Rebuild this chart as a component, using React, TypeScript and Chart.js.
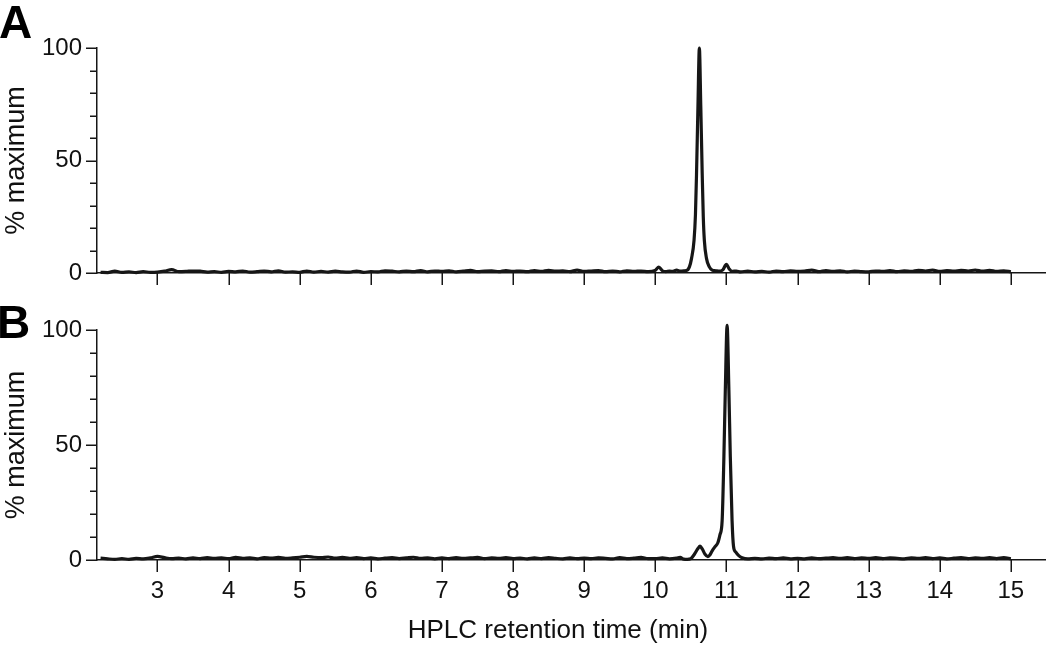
import React, { useEffect, useRef } from "react";
import { Chart, registerables } from "chart.js";

Chart.register(...registerables);

const FONT = "'Liberation Sans', Arial, Helvetica, sans-serif";
const INK = "#161616";
const TEXT = "#111111";

// ---------- Panel A (retention time in min, % of maximum) ----------
const timesA = [
  2.2, 2.3, 2.4, 2.5, 2.6, 2.7, 2.8, 2.9, 3.0, 3.1, 3.2, 3.3, 3.4, 3.5, 3.6, 3.7, 3.8, 3.9,
  4.0, 4.1, 4.2, 4.3, 4.4, 4.5, 4.6, 4.7, 4.8, 4.9, 5.0, 5.1, 5.2, 5.3, 5.4, 5.5, 5.6, 5.7, 5.8, 5.9,
  6.0, 6.1, 6.2, 6.3, 6.4, 6.5, 6.6, 6.7, 6.8, 6.9, 7.0, 7.1, 7.2, 7.3, 7.4, 7.5, 7.6, 7.7, 7.8, 7.9,
  8.0, 8.1, 8.2, 8.3, 8.4, 8.5, 8.6, 8.7, 8.8, 8.9, 9.0, 9.1, 9.2, 9.3, 9.4, 9.5, 9.6, 9.7, 9.8, 9.9,
  10.0, 10.05, 10.1, 10.15, 10.2, 10.25, 10.3, 10.35, 10.4, 10.44, 10.48, 10.51, 10.545, 10.565,
  10.58, 10.60, 10.62, 10.64, 10.66, 10.675, 10.69, 10.72, 10.76, 10.8, 10.85, 10.9, 10.95, 11.0,
  11.04, 11.08, 11.14, 11.2,
  11.3, 11.4, 11.5, 11.6, 11.7, 11.8, 11.9, 12.0, 12.1, 12.2, 12.3, 12.4, 12.5, 12.6, 12.7, 12.8, 12.9,
  13.0, 13.1, 13.2, 13.3, 13.4, 13.5, 13.6, 13.7, 13.8, 13.9, 14.0, 14.1, 14.2, 14.3, 14.4, 14.5, 14.6,
  14.7, 14.8, 14.9, 15.0,
];
const valuesA = [
  0.3, 0.2, 0.8, 0.3, 0.5, 0.2, 0.6, 0.3, 0.4, 0.8, 1.5, 0.6, 0.7, 0.9, 0.8, 0.4, 0.6, 0.3,
  0.7, 0.5, 0.9, 0.4, 0.6, 0.9, 0.5, 1.0, 0.4, 0.5, 0.3, 0.9, 0.4, 0.7, 0.4, 0.8, 0.5, 0.4, 0.9, 0.3,
  0.6, 0.5, 1.0, 0.8, 0.5, 0.9, 0.6, 1.1, 0.5, 0.9, 0.7, 1.0, 0.5, 0.8, 1.2, 0.6, 0.9, 1.0, 0.6, 1.1,
  0.7, 0.9, 0.6, 1.1, 0.7, 1.2, 0.8, 1.0, 0.6, 1.3, 0.7, 0.9, 1.1, 0.6, 0.9, 0.5, 1.0, 0.7, 0.9, 0.6,
  1.2, 2.6, 1.0, 0.6, 0.9, 0.7, 1.3, 0.8, 1.0, 1.1, 2.7, 6.5, 14.5, 26,
  44, 74, 100, 74, 44, 25, 14.5, 6.5, 2.7, 1.3, 1.0, 0.8, 1.4, 3.8,
  1.8, 0.7, 0.9, 0.5,
  0.8, 0.5, 0.7, 0.4, 0.9, 0.6, 1.0, 0.7, 0.9, 1.3, 0.6, 1.1, 0.7, 1.0, 0.5, 0.8, 0.6,
  0.5, 0.9, 0.7, 1.1, 0.6, 1.0, 0.7, 1.2, 0.9, 1.3, 0.7, 1.1, 0.8, 1.2, 0.9, 1.3, 0.8,
  1.2, 0.7, 1.0, 0.5,
];

// ---------- Panel B ----------
const timesB = [
  2.2, 2.3, 2.4, 2.5, 2.6, 2.7, 2.8, 2.9, 3.0, 3.1, 3.2, 3.3, 3.4, 3.5, 3.6, 3.7, 3.8, 3.9,
  4.0, 4.1, 4.2, 4.3, 4.4, 4.5, 4.6, 4.7, 4.8, 4.9, 5.0, 5.1, 5.2, 5.3, 5.4, 5.5, 5.6, 5.7, 5.8, 5.9,
  6.0, 6.1, 6.2, 6.3, 6.4, 6.5, 6.6, 6.7, 6.8, 6.9, 7.0, 7.1, 7.2, 7.3, 7.4, 7.5, 7.6, 7.7, 7.8, 7.9,
  8.0, 8.1, 8.2, 8.3, 8.4, 8.5, 8.6, 8.7, 8.8, 8.9, 9.0, 9.1, 9.2, 9.3, 9.4, 9.5, 9.6, 9.7, 9.8, 9.9,
  10.0, 10.1, 10.2, 10.3, 10.35, 10.4, 10.45, 10.5, 10.55, 10.6, 10.63, 10.66, 10.7, 10.74, 10.77,
  10.8, 10.84, 10.88, 10.91, 10.94, 10.965, 10.985, 11.01, 11.035, 11.055, 11.08, 11.1, 11.13,
  11.17, 11.22, 11.3,
  11.4, 11.5, 11.6, 11.7, 11.8, 11.9, 12.0, 12.1, 12.2, 12.3, 12.4, 12.5, 12.6, 12.7, 12.8, 12.9,
  13.0, 13.1, 13.2, 13.3, 13.4, 13.5, 13.6, 13.7, 13.8, 13.9, 14.0, 14.1, 14.2, 14.3, 14.4, 14.5, 14.6,
  14.7, 14.8, 14.9, 15.0,
];
const valuesB = [
  0.8, 0.5, 0.3, 0.6, 0.3, 0.7, 0.5, 0.9, 1.6, 1.0, 0.6, 0.8, 0.5, 0.9, 0.6, 1.0, 0.7, 0.9,
  0.6, 1.1, 0.7, 0.9, 0.5, 1.0, 0.8, 1.1, 0.7, 0.9, 1.2, 1.6, 1.2, 1.0, 1.3, 0.8, 1.1, 0.7, 1.0, 0.6,
  0.9, 0.5, 0.8, 1.0, 0.6, 0.9, 1.2, 0.7, 0.9, 0.5, 0.9, 0.6, 1.0, 0.7, 0.9, 1.1, 0.6, 0.9, 0.7, 1.0,
  0.6, 0.8, 0.5, 0.9, 0.6, 1.0, 0.7, 0.5, 0.9, 0.6, 0.8, 0.6, 0.9, 0.7, 0.5, 1.0, 0.6, 0.8, 1.1, 0.6,
  0.6, 0.9, 0.5, 0.8, 1.1, 0.4, 0.3, 0.6, 2.5, 5.0, 6.0, 4.8, 2.5, 1.5, 2.3,
  4.0, 5.8, 7.5, 11, 17, 45, 74, 102, 74, 45, 17, 6, 3.5,
  2.0, 1.0, 0.5,
  0.7, 0.5, 0.8, 0.6, 0.9, 0.5, 0.7, 0.5, 0.9, 0.6, 0.8, 1.0, 0.7, 1.0, 0.6, 0.9,
  0.7, 1.0, 0.6, 0.9, 0.7, 0.5, 0.9, 0.7, 1.0, 0.6, 0.9, 0.5, 0.8, 1.0, 0.6, 0.9, 0.7,
  1.0, 0.6, 1.0, 0.5,
];

// ---------- Axes ----------
const xTickValues = [3, 4, 5, 6, 7, 8, 9, 10, 11, 12, 13, 14, 15];
const yTickValues = [0, 10, 20, 30, 40, 50, 60, 70, 80, 90, 100];
const yLabelValues = [0, 50, 100];
const X_MIN = 2.15;
const X_MAX = 15.48;
const Y_TITLE = "% maximum";
const X_TITLE = "HPLC retention time (min)";

type PanelOpts = {
  letter: string;
  letterX: number;
  letterY: number;
  showXLabels: boolean;
  padTop: number;
  xHeight: number;
};

function buildChart(canvas: HTMLCanvasElement, times: number[], values: number[], o: PanelOpts) {
  const data = times.map((t, i) => ({ x: t, y: values[i] }));
  const decor = {
    id: "decor",
    afterDraw(chart: any) {
      const ctx = chart.ctx;
      const xs = chart.scales.x;
      const ys = chart.scales.y;
      ctx.save();
      ctx.strokeStyle = INK;
      ctx.lineWidth = 1.5;
      ctx.beginPath();
      for (const v of yTickValues) {
        const py = Math.round(ys.getPixelForValue(v)) + 0.25;
        const len = yLabelValues.includes(v) ? 11 : 7;
        ctx.moveTo(ys.right - len, py);
        ctx.lineTo(ys.right, py);
      }
      for (const t of xTickValues) {
        const px = Math.round(xs.getPixelForValue(t)) + 0.25;
        ctx.moveTo(px, xs.top);
        ctx.lineTo(px, xs.top + 12);
      }
      ctx.stroke();
      ctx.fillStyle = "#000";
      ctx.textBaseline = "alphabetic";
      ctx.textAlign = "left";
      ctx.font = `bold 46px ${FONT}`;
      ctx.fillText(o.letter, o.letterX, o.letterY);
      if (o.showXLabels) {
        ctx.fillStyle = TEXT;
        ctx.font = `26px ${FONT}`;
        ctx.textAlign = "center";
        const cx = (chart.chartArea.left + chart.chartArea.right) / 2 - 13;
        ctx.fillText(X_TITLE, cx, xs.bottom - 10);
      }
      ctx.restore();
    },
  };

  return new Chart(canvas, {
    type: "line",
    data: {
      datasets: [
        {
          data,
          borderColor: INK,
          borderWidth: 3.2,
          pointRadius: 0,
          fill: false,
          cubicInterpolationMode: "monotone",
          clip: false as any,
        },
      ],
    },
    options: {
      animation: false,
      responsive: false,
      events: [],
      layout: { padding: { top: o.padTop, right: 5, bottom: 0, left: 0 } },
      plugins: { legend: { display: false }, tooltip: { enabled: false } },
      scales: {
        x: {
          type: "linear",
          min: X_MIN,
          max: X_MAX,
          afterFit: (s: any) => {
            s.height = o.xHeight;
          },
          border: { display: true, color: INK, width: 1.5 },
          grid: { display: true, drawOnChartArea: false, drawTicks: false },
          ticks: {
            display: o.showXLabels,
            stepSize: 1,
            includeBounds: false,
            padding: 17,
            color: TEXT,
            font: { family: FONT, size: 24 },
            maxRotation: 0,
            autoSkip: false,
            callback: (v: any) => (xTickValues.includes(Number(v)) ? String(v) : ""),
          },
        },
        y: {
          type: "linear",
          min: 0,
          max: 100,
          afterFit: (s: any) => {
            s.width = 97;
          },
          border: { display: true, color: INK, width: 1.5 },
          grid: { display: true, drawOnChartArea: false, drawTicks: false },
          ticks: {
            stepSize: 50,
            padding: 15,
            color: TEXT,
            font: { family: FONT, size: 24 },
            callback: (v: any) => (yLabelValues.includes(Number(v)) ? String(v) : ""),
          },
          title: {
            display: true,
            text: Y_TITLE,
            color: TEXT,
            font: { family: FONT, size: 27 },
            padding: 0,
          },
        },
      },
    },
    plugins: [decor],
  } as any);
}

function Panel(props: { times: number[]; values: number[]; opts: PanelOpts; top: number; height: number }) {
  const ref = useRef<HTMLCanvasElement | null>(null);
  useEffect(() => {
    if (!ref.current) return;
    const chart = buildChart(ref.current, props.times, props.values, props.opts);
    return () => chart.destroy();
  }, []);
  return (
    <canvas
      ref={ref}
      width={1050}
      height={props.height}
      style={{ position: "absolute", left: 0, top: props.top, width: 1050, height: props.height, display: "block" }}
    />
  );
}

export default function App() {
  return (
    <div style={{ position: "absolute", left: 0, top: 0, width: 1050, height: 648, background: "#fff", overflow: "hidden" }}>
      <Panel
        times={timesA}
        values={valuesA}
        top={0}
        height={310}
        opts={{ letter: "A", letterX: -1, letterY: 38, showXLabels: false, padTop: 48, xHeight: 37 }}
      />
      <Panel
        times={timesB}
        values={valuesB}
        top={300}
        height={348}
        opts={{ letter: "B", letterX: -3, letterY: 38, showXLabels: true, padTop: 30, xHeight: 88 }}
      />
    </div>
  );
}
